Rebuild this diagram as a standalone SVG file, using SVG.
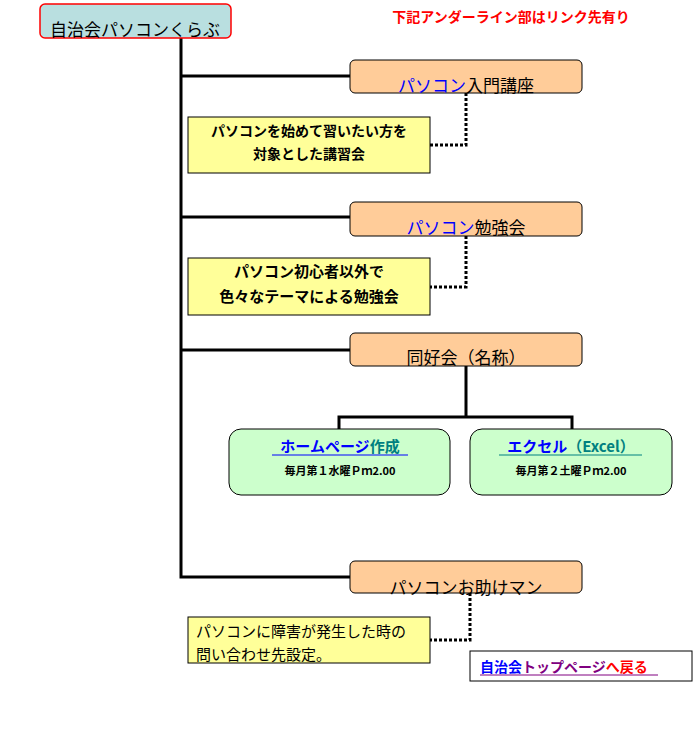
<svg xmlns="http://www.w3.org/2000/svg" width="696" height="732" viewBox="0 0 696 732">
<style>
text{font-family:"Noto Sans CJK JP","Liberation Sans",sans-serif;font-weight:bold;fill:#000}
.or{fill:#ffcc99;stroke:#000;stroke-width:1}
.ye{fill:#ffff99;stroke:#000;stroke-width:1}
.gr{fill:#ccffcc;stroke:#000;stroke-width:1}
.ln{stroke:#000;stroke-width:3;fill:none}
.dt{stroke:#000;stroke-width:3;fill:none;stroke-dasharray:3 2}
.t{font-size:17px;text-anchor:middle}
.b{fill:#0000ff}
</style>
<rect width="696" height="732" fill="#fff"/>
<g id="connectors">
<path class="ln" d="M181 38V577H350M181 76H350M181 217H350M181 350H350"/>
<path class="ln" d="M466 366V417M339 430V417H572V430"/>
<path class="dt" d="M466 93V145H430M466 236V287H430M470 593V640H430"/>
</g>
<g id="root"><rect x="40" y="4" width="191" height="34" rx="5" fill="#b9dfe0" stroke="#ff0000" stroke-width="1.5"/>
<text x="135" y="36" class="t" style="font-weight:normal">自治会パソコンくらぶ</text></g>
<text x="511" y="22" font-size="14" text-anchor="middle" style="fill:#ff0000">下記アンダーライン部はリンク先有り</text>
<g id="n1"><rect class="or" x="350" y="60" width="232" height="33" rx="5"/>
<text x="466" y="92" class="t" style="font-weight:normal"><tspan class="b">パソコン</tspan>入門講座</text></g>
<g id="d1"><rect class="ye" x="188" y="117" width="242" height="56"/>
<text x="309" y="136" font-size="14" text-anchor="middle">パソコンを始めて習いたい方を</text>
<text x="309" y="159" font-size="14" text-anchor="middle">対象とした講習会</text></g>
<g id="n2"><rect class="or" x="350" y="202" width="232" height="34" rx="5"/>
<text x="466" y="234" class="t" style="font-weight:normal"><tspan class="b">パソコン</tspan>勉強会</text></g>
<g id="d2"><rect class="ye" x="188" y="258" width="242" height="57"/>
<text x="309" y="277" font-size="15" text-anchor="middle">パソコン初心者以外で</text>
<text x="309" y="302" font-size="15" text-anchor="middle">色々なテーマによる勉強会</text></g>
<g id="n3"><rect class="or" x="350" y="333" width="232" height="33" rx="5"/>
<text x="466" y="364" class="t" style="font-weight:normal">同好会（名称）</text></g>
<g id="g1"><rect class="gr" x="229" y="429" width="221" height="66" rx="12"/>
<text x="340" y="452" font-size="15" text-anchor="middle"><tspan class="b">ホームページ</tspan><tspan style="fill:#008080">作成</tspan></text>
<line x1="272" y1="455" x2="408" y2="455" stroke="#0000ff"/>
<text x="340" y="475" font-size="11" text-anchor="middle">毎月第１水曜Ｐｍ2.00</text></g>
<g id="g2"><rect class="gr" x="470" y="429" width="202" height="66" rx="12"/>
<text x="571" y="452" font-size="15" text-anchor="middle"><tspan class="b">エクセル</tspan><tspan style="fill:#008080">（Excel）</tspan></text>
<line x1="499" y1="455" x2="642" y2="455" stroke="#008080"/>
<text x="571" y="475" font-size="11" text-anchor="middle">毎月第２土曜Ｐｍ2.00</text></g>
<g id="n4"><rect class="or" x="350" y="561" width="232" height="32" rx="5"/>
<text x="466" y="594" class="t" style="font-weight:normal">パソコンお助けマン</text></g>
<g id="d3"><rect class="ye" x="188" y="617" width="242" height="46"/>
<text x="196" y="637" font-size="15" style="font-weight:normal">パソコンに障害が発生した時の</text>
<text x="196" y="660" font-size="15" style="font-weight:normal">問い合わせ先設定。</text></g>
<g id="back"><rect x="470" y="651" width="222" height="30" fill="#fff" stroke="#000"/>
<text x="480" y="672" font-size="14"><tspan class="b">自治会</tspan><tspan style="fill:#800080">トップページ</tspan><tspan style="fill:#ff0000">へ戻る</tspan></text>
<line x1="480" y1="675" x2="658" y2="675" stroke="#800080"/></g>
</svg>
